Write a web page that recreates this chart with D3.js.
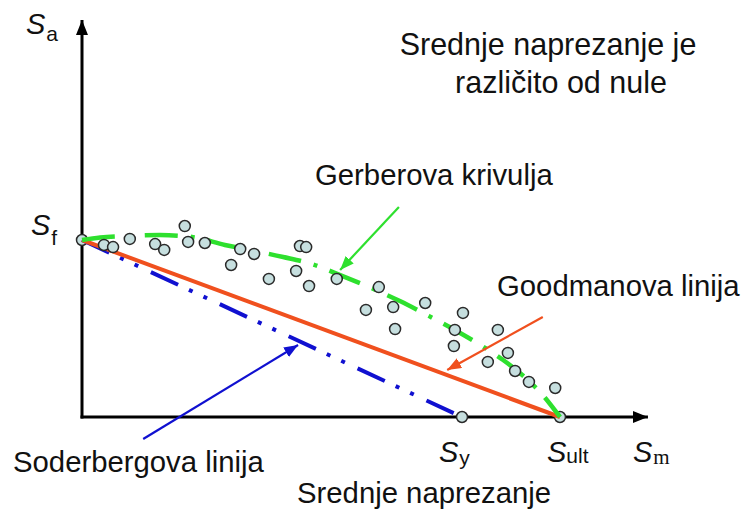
<!DOCTYPE html>
<html>
<head>
<meta charset="utf-8">
<script src="https://cdn.jsdelivr.net/npm/d3@7"></script>
<style>
  body { margin: 0; background: #fff; }
  text { font-family: "Liberation Sans", Arial, sans-serif; fill: #111; }
  .sym { font-style: italic; }
</style>
</head>
<body>
<svg id="chart"></svg>
<script>
// measured points (Sm, Sa), Sult = 100, Sf = 100
var pointsSm = [4.6, 6.5, 10.0, 15.3, 17.2, 21.5, 22.2, 25.7, 33.1, 36.0, 31.2, 39.1, 45.6, 46.9, 44.8, 47.5,
                53.3, 62.1, 59.4, 65.1, 71.8, 65.5, 79.7, 78.0, 77.8, 87.0, 84.9, 89.1, 90.6, 93.5, 99.0]
var pointsSa = [97.2, 96.0, 100.6, 97.7, 94.4, 107.9, 98.9, 98.3, 94.9, 92.1, 85.9, 78.0, 96.6, 96.0, 82.5, 74.0,
                78.0, 73.4, 60.5, 62.1, 64.4, 49.7, 58.8, 49.2, 40.1, 49.2, 31.1, 36.2, 26.0, 19.8, 16.4]

// Gerber curve
var gerberSm = [0, 3.8, 10.0, 16.3, 23.0, 29.9, 36.2, 42.1, 48.1, 54.4, 60.5, 66.5, 72.2, 78.0, 83.7, 88.1, 92.1, 96.2, 100]
var gerberSa = [100, 101.4, 102.3, 102.8, 101.7, 97.2, 93.8, 90.4, 86.4, 79.7, 72.9, 65.5, 57.6, 49.2, 40.1, 32.2, 23.7, 13.0, 0]

var Sf = 100, Sy = 79.5, Sult = 100
var axisMaxSm = 118.4, axisMaxSa = 224.3

var width = 745, height = 513

var svg = d3.select('#chart')
  .attr('width', width)
  .attr('height', height)

var x = d3.scaleLinear().domain([0, 100]).range([82, 560])
var y = d3.scaleLinear().domain([0, 100]).range([417, 240])

var defs = svg.append('defs')
function marker(id, color, len, w) {
  defs.append('marker')
    .attr('id', id)
    .attr('markerUnits', 'userSpaceOnUse')
    .attr('viewBox', '0 0 ' + len + ' ' + w)
    .attr('refX', len).attr('refY', w / 2)
    .attr('markerWidth', len).attr('markerHeight', w)
    .attr('orient', 'auto')
    .append('path')
    .attr('d', 'M0,0 L' + len + ',' + (w / 2) + ' L0,' + w + ' Z')
    .attr('fill', color)
}
marker('arrBlack', '#000', 15, 12)
marker('arrGreen', '#2ee02e', 14, 11)
marker('arrRed', '#f0501e', 14, 11)
marker('arrBlue', '#1010d0', 14, 11)

// axes
svg.append('line')
  .attr('x1', x(0)).attr('y1', y(0) + 1.5)
  .attr('x2', x(0)).attr('y2', y(axisMaxSa))
  .attr('stroke', '#000').attr('stroke-width', 3)
  .attr('marker-end', 'url(#arrBlack)')
svg.append('line')
  .attr('x1', x(0) - 1.5).attr('y1', y(0))
  .attr('x2', x(axisMaxSm)).attr('y2', y(0))
  .attr('stroke', '#000').attr('stroke-width', 3)
  .attr('marker-end', 'url(#arrBlack)')

var fillPt = '#c6dfdf', strokePt = '#2a2a2a'

// special points under the lines
var special = [[0, Sf], [Sy, 0], [Sult, 0]]
svg.selectAll('.spt').data(special).enter()
  .append('circle').attr('class', 'spt')
  .attr('cx', d => x(d[0])).attr('cy', d => y(d[1]))
  .attr('r', 5.5)
  .attr('fill', fillPt).attr('stroke', strokePt).attr('stroke-width', 1.5)

var line = d3.line().x(d => x(d[0])).y(d => y(d[1]))

// Soderberg
svg.append('path')
  .datum([[0, Sf], [Sy, 0]])
  .attr('d', line)
  .attr('fill', 'none')
  .attr('stroke', '#1010d0').attr('stroke-width', 4)
  .attr('stroke-dasharray', '30,12,4,12,4,14')

// Goodman
svg.append('path')
  .datum([[0, Sf], [Sult, 0]])
  .attr('d', line)
  .attr('fill', 'none')
  .attr('stroke', '#f0501e').attr('stroke-width', 4)

// Gerber
var gerber = gerberSm.map((d, i) => [d, gerberSa[i]])
svg.append('path')
  .datum(gerber)
  .attr('d', d3.line().x(d => x(d[0])).y(d => y(d[1])).curve(d3.curveMonotoneX))
  .attr('fill', 'none')
  .attr('stroke', '#2ee02e').attr('stroke-width', 4.5)
  .attr('stroke-dasharray', '33,13,4,13')

// measured points
var pts = pointsSm.map((d, i) => [d, pointsSa[i]])
svg.selectAll('.pt').data(pts).enter()
  .append('circle').attr('class', 'pt')
  .attr('cx', d => x(d[0])).attr('cy', d => y(d[1]))
  .attr('r', 5.5)
  .attr('fill', fillPt).attr('stroke', strokePt).attr('stroke-width', 1.5)

// annotation arrows
function arrow(from, to, color, id) {
  svg.append('line')
    .attr('x1', x(from[0])).attr('y1', y(from[1]))
    .attr('x2', x(to[0])).attr('y2', y(to[1]))
    .attr('stroke', color).attr('stroke-width', 2.2)
    .attr('marker-end', 'url(#' + id + ')')
}
arrow([66.3, 118.6], [54.0, 83.1], '#2ee02e', 'arrGreen')
arrow([96.4, 56.5], [76.4, 26.6], '#f0501e', 'arrRed')
arrow([12.8, -12.4], [45.2, 40.7], '#1010d0', 'arrBlue')

// texts
function txt(tx, ty, s, size, anchor) {
  return svg.append('text').attr('x', tx).attr('y', ty)
    .attr('text-anchor', anchor || 'start')
    .style('font-size', size + 'px').text(s)
}
txt(548, 55, 'Srednje naprezanje je', 30.5, 'middle')
txt(561, 93, 'različito od nule', 30.5, 'middle')
txt(315, 185, 'Gerberova krivulja', 29.3)
txt(497, 296, 'Goodmanova linija', 29.3)
txt(13, 472, 'Soderbergova linija', 29.3)
txt(297, 503, 'Srednje naprezanje', 29.3)

function sym(sx, sy, sub, subDx, subDy, subFont) {
  var t = svg.append('text').attr('x', sx).attr('y', sy).style('font-size', '29px')
  t.append('tspan').attr('class', 'sym').text('S')
  t.append('tspan')
    .attr('dx', subDx).attr('dy', subDy)
    .style('font-size', '21px')
    .style('font-style', 'normal')
    .style('font-family', subFont || null)
    .text(sub)
}
sym(26, 34, 'a', 1, 7)
sym(31, 235, 'f', 1, 10)
sym(x(Sy) - 23, 462, 'y', 1, 3)
sym(x(Sult) - 13, 462, 'ult', 0, 1)
sym(633, 462, 'm', 1, 2, '"Liberation Serif", "Times New Roman", serif')
</script>
</body>
</html>
